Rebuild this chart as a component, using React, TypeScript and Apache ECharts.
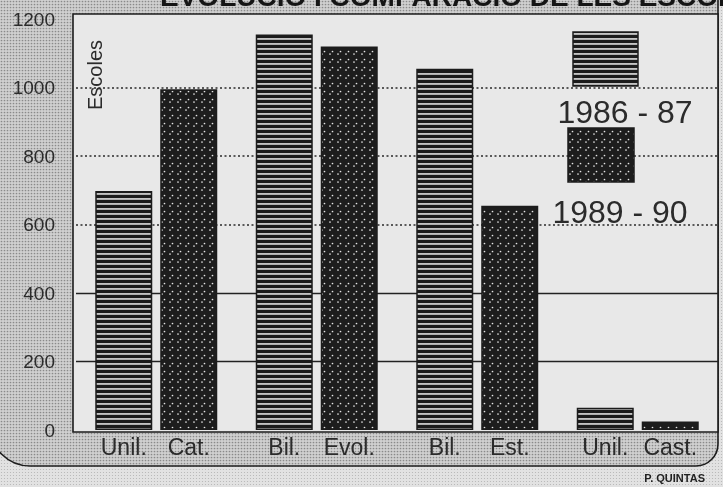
import React, { useEffect, useRef } from "react";
import * as echarts from "echarts";

// ---- data ----
const groupNames = ["Unil. / Cat.", "Bil. / Evol.", "Bil. / Est.", "Unil. / Cast."];
const labels1986 = ["Unil.", "Bil.", "Bil.", "Unil."];
const labels1989 = ["Cat.", "Evol.", "Est.", "Cast."];
const values1986 = [698, 1155, 1055, 65];
const values1989 = [995, 1120, 655, 25];
const seriesNames = ["1986 - 87", "1989 - 90"];
const yMin = 0;
const yMax = 1200;
const yInterval = 200;
const solidLines = [200, 400];
const dottedLines = [600, 800, 1000];
const titleText = "EVOLUCIÓ I COMPARACIÓ DE LES ESCOLES";
const axisName = "Escoles";
const credit = "P. QUINTAS";

const FONT = "'Liberation Sans', Arial, Helvetica, sans-serif";
const INK = "#1c1c1c";
const TEXT = "#2b2b2b";

function svgUrl(svg: string) {
  return "data:image/svg+xml;charset=utf-8," + encodeURIComponent(svg);
}

function pattern(svg: string, w: number, h: number) {
  return { image: svgUrl(svg), repeat: "repeat", imageWidth: w, imageHeight: h } as any;
}

const stripePattern = pattern(
  `<svg xmlns='http://www.w3.org/2000/svg' width='6' height='5'><rect width='6' height='5' fill='#1b1b1b'/><rect y='3.2' width='6' height='1.5' fill='#ececec'/></svg>`,
  6,
  5
);

const dotPattern = pattern(
  `<svg xmlns='http://www.w3.org/2000/svg' width='8' height='8'><rect width='8' height='8' fill='#1d1d1d'/><circle cx='2' cy='6' r='0.85' fill='#e6e6e6'/><circle cx='4.5' cy='3.5' r='0.85' fill='#e6e6e6'/></svg>`,
  8,
  8
);

const stipplePattern = pattern(
  `<svg xmlns='http://www.w3.org/2000/svg' width='3' height='3'><rect width='3' height='3' fill='#d0d0d0'/><circle cx='1.5' cy='1.5' r='0.85' fill='#8a8a8a'/></svg>`,
  3,
  3
);

const lightStipplePattern = pattern(
  `<svg xmlns='http://www.w3.org/2000/svg' width='3' height='3'><rect width='3' height='3' fill='#e2e2e2'/><circle cx='1.5' cy='1.5' r='0.6' fill='#b4b4b4'/></svg>`,
  3,
  3
);

export default function App() {
  const ref = useRef<HTMLDivElement>(null);

  useEffect(() => {
    if (!ref.current) return;
    const chart = echarts.init(ref.current, null, { renderer: "svg" });

    const markData: any[] = [
      ...solidLines.map((v) => ({
        yAxis: v,
        lineStyle: { type: "solid", width: 1.4, color: "#222" },
      })),
      ...dottedLines.map((v) => ({
        yAxis: v,
        lineStyle: { type: [2, 2.5], width: 1.6, color: "#2a2a2a" },
      })),
    ];

    const barLabel = (arr: string[]) => ({
      show: true,
      position: "bottom",
      distance: 5,
      formatter: (p: any) => arr[p.dataIndex],
      fontSize: 23,
      fontFamily: FONT,
      color: TEXT,
    });

    chart.setOption({
      animation: false,
      backgroundColor: "transparent",
      grid: { left: 76, right: 5, top: 19, bottom: 57 },
      xAxis: {
        type: "category",
        data: groupNames,
        axisLine: { show: false },
        axisTick: { show: false },
        axisLabel: { show: false },
        splitLine: { show: false },
      },
      yAxis: {
        type: "value",
        min: yMin,
        max: yMax,
        interval: yInterval,
        axisLine: { show: false },
        axisTick: { show: false },
        splitLine: { show: false },
        axisLabel: {
          fontSize: 19,
          fontFamily: FONT,
          color: TEXT,
          margin: 21,
          formatter: (v: number) => String(v),
        },
      },
      series: [
        {
          name: seriesNames[0],
          type: "bar",
          data: values1986,
          barWidth: 57,
          barGap: "14%",
          z: 3,
          itemStyle: { color: stripePattern, borderColor: INK, borderWidth: 1.5 },
          label: barLabel(labels1986),
          markLine: {
            z: 1,
            silent: true,
            symbol: ["none", "none"],
            label: { show: false },
            data: markData,
          },
        },
        {
          name: seriesNames[1],
          type: "bar",
          data: values1989,
          barWidth: 57,
          barGap: "14%",
          z: 3,
          itemStyle: { color: dotPattern, borderColor: INK, borderWidth: 1.5 },
          label: barLabel(labels1989),
        },
      ],
      graphic: [
        {
          type: "rect",
          z: -30,
          silent: true,
          shape: { x: 0, y: 0, width: 723, height: 487 },
          style: { fill: lightStipplePattern },
        },
        {
          type: "rect",
          z: -20,
          silent: true,
          shape: { x: -10, y: -30, width: 728, height: 496, r: [0, 0, 22, 40] },
          style: { fill: stipplePattern, stroke: INK, lineWidth: 1.6 },
        },
        {
          type: "rect",
          z: -10,
          silent: true,
          shape: { x: 73, y: 14, width: 645, height: 418 },
          style: { fill: "#e8e8e8", stroke: INK, lineWidth: 1.6 },
        },
        {
          type: "text",
          z: 50,
          silent: true,
          x: 160,
          y: 10,
          style: {
            text: titleText,
            fontSize: 28,
            fontWeight: "bold",
            fontFamily: FONT,
            fill: "#151515",
            verticalAlign: "bottom",
            align: "left",
          },
        },
        {
          type: "text",
          z: 50,
          silent: true,
          x: 95,
          y: 75,
          rotation: Math.PI / 2,
          style: {
            text: axisName,
            fontSize: 20,
            fontFamily: FONT,
            fill: TEXT,
            align: "center",
            verticalAlign: "middle",
          },
        },
        {
          type: "rect",
          z: 50,
          silent: true,
          shape: { x: 573, y: 32, width: 65, height: 54 },
          style: { fill: stripePattern, stroke: INK, lineWidth: 1.5 },
        },
        {
          type: "text",
          z: 50,
          silent: true,
          x: 625,
          y: 112,
          style: {
            text: seriesNames[0],
            fontSize: 32,
            fontFamily: FONT,
            fill: TEXT,
            align: "center",
            verticalAlign: "middle",
          },
        },
        {
          type: "rect",
          z: 50,
          silent: true,
          shape: { x: 568, y: 128, width: 66, height: 54 },
          style: { fill: dotPattern, stroke: INK, lineWidth: 1.5 },
        },
        {
          type: "text",
          z: 50,
          silent: true,
          x: 620,
          y: 212,
          style: {
            text: seriesNames[1],
            fontSize: 32,
            fontFamily: FONT,
            fill: TEXT,
            align: "center",
            verticalAlign: "middle",
          },
        },
        {
          type: "text",
          z: 50,
          silent: true,
          x: 705,
          y: 478,
          style: {
            text: credit,
            fontSize: 11,
            fontWeight: "bold",
            fontFamily: FONT,
            fill: "#222",
            align: "right",
            verticalAlign: "middle",
          },
        },
      ],
    });

    return () => {
      chart.dispose();
    };
  }, []);

  return (
    <div
      ref={ref}
      style={{ position: "fixed", left: 0, top: 0, width: 723, height: 487 }}
    />
  );
}
